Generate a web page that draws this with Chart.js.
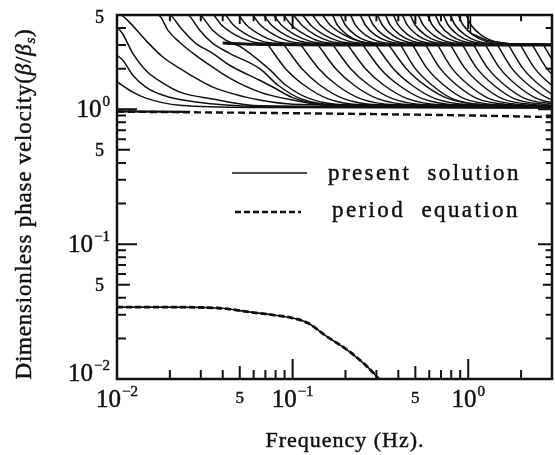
<!DOCTYPE html>
<html>
<head>
<meta charset="utf-8">
<script src="https://cdn.jsdelivr.net/npm/chart.js@4.4.1/dist/chart.umd.min.js"></script>
<style>
  html, body { margin: 0; padding: 0; background: #fff; }
  #wrap { position: relative; width: 555px; height: 455px; }
</style>
</head>
<body>
<div id="wrap"><canvas id="chart" width="555" height="455"></canvas></div>
<script>
// axes
const X_RANGE = [0.01, 3];
const Y_RANGE = [0.01, 5];
const X_TICKS = [0.02, 0.03, 0.04, 0.05, 0.06, 0.07, 0.08, 0.09, 0.1, 0.2, 0.3, 0.4, 0.5, 0.6, 0.7, 0.8, 0.9, 1, 2];
const Y_TICKS = [0.02, 0.03, 0.04, 0.05, 0.06, 0.07, 0.08, 0.09, 0.1, 0.2, 0.3, 0.4, 0.5, 0.6, 0.7, 0.8, 0.9, 1, 2, 3, 4];
const MAJOR_TICKS = [0.1, 1];
const MID_TICKS = [0.05, 0.5];
const X_LABEL_VALUES = [0.01, 0.05, 0.1, 0.5, 1];
const X_LABEL_TEXT = ['10^-2', '5', '10^-1', '5', '10^0'];
const Y_LABEL_VALUES = [0.01, 0.05, 0.1, 0.5, 1, 5];
const Y_LABEL_TEXT = ['10^-2', '5', '10^-1', '5', '10^0', '5'];

// fundamental mode [freq, velocity]
const fundamentalMode = [[0.01, 0.0341], [0.0195, 0.0341], [0.0375, 0.0336], [0.0577, 0.0313], [0.078, 0.0298],
  [0.1, 0.0283], [0.122, 0.026], [0.158, 0.0205], [0.205, 0.0164], [0.267, 0.0123], [0.31, 0.0100]];

// mode just below 1
const nearUnityDashed = [[0.01, 0.96], [0.1, 0.935], [1, 0.9], [3, 0.875]];
const nearUnitySolid = [[0.01, 0.965], [0.026, 0.955]];

// osculation line around 3
const plateauLine = [[0.04, 3.1], [0.06, 3.03], [0.2, 3.0], [3, 3.0]];

// low frequency modes running through the whole range
const lowFreqModes = [
  [[0.01, 1.60], [0.0123, 1.34], [0.0146, 1.21], [0.0228, 1.07], [0.065, 1.03], [3.5, 1.02]],
  [[0.01, 2.5], [0.0108, 2.31], [0.0123, 1.79], [0.0146, 1.46], [0.0183, 1.27], [0.0281, 1.13], [0.065, 1.05], [3.5, 1.03]],
  [[0.01, 4.1], [0.0108, 3.6], [0.0123, 2.60], [0.0146, 1.94], [0.0183, 1.56], [0.0228, 1.34], [0.0351, 1.19], [0.065, 1.06], [3.5, 1.03]],
  [[0.0106, 5.0], [0.0115, 4.56], [0.0146, 3.24], [0.0183, 2.43], [0.0228, 2.01], [0.0281, 1.70], [0.0351, 1.46], [0.0541, 1.23], [0.065, 1.17], [0.1, 1.09], [3.5, 1.04]],
  [[0.0172, 5.0], [0.0178, 4.80], [0.0195, 3.85], [0.0228, 3.13], [0.0281, 2.51], [0.0351, 2.05], [0.0438, 1.70], [0.065, 1.34], [0.1, 1.17], [0.164, 1.07], [3.5, 1.05]],
  [[0.0203, 5.0], [0.0208, 4.80], [0.0237, 3.85], [0.0281, 3.08], [0.0351, 2.60], [0.0438, 2.12], [0.065, 1.64], [0.078, 1.45], [0.1, 1.22], [0.16, 1.08], [3.5, 1.05]],
  [[0.0255, 5.0], [0.0263, 4.80], [0.0296, 3.85], [0.0351, 3.08], [0.0438, 2.60], [0.065, 2.0], [0.083, 1.5], [0.111, 1.2], [0.176, 1.08], [3.5, 1.05]],
  [[0.030, 5.0], [0.0308, 4.80], [0.0351, 3.85], [0.0416, 3.25], [0.0506, 2.9], [0.073, 2.0], [0.092, 1.5], [0.125, 1.2], [0.2, 1.08], [3.5, 1.05]]
];

// upper modes: frequency where each reaches these velocities
const UPPER_LEVELS = [5.0, 4.2, 3.55, 3.2, 3.05];
const upperModeFreqs = [
  [0.0356, 0.0395, 0.0474, 0.0570, 0.0760],
  [0.0416, 0.0462, 0.0555, 0.0667, 0.0889],
  [0.0493, 0.0548, 0.0658, 0.0790, 0.105],
  [0.0593, 0.0658, 0.0790, 0.0949, 0.127],
  [0.0684, 0.0760, 0.0912, 0.110, 0.146],
  [0.0780, 0.0866, 0.104, 0.125, 0.167],
  [0.0889, 0.0987, 0.119, 0.142, 0.190],
  [0.101, 0.113, 0.135, 0.162, 0.216],
  [0.114, 0.127, 0.152, 0.183, 0.243],
  [0.130, 0.144, 0.173, 0.208, 0.277],
  [0.148, 0.164, 0.197, 0.237, 0.316],
  [0.169, 0.180, 0.205, 0.240, 0.304],
  [0.187, 0.200, 0.228, 0.267, 0.338],
  [0.214, 0.228, 0.260, 0.304, 0.385],
  [0.243, 0.260, 0.296, 0.347, 0.439],
  [0.270, 0.289, 0.329, 0.385, 0.487],
  [0.304, 0.325, 0.370, 0.433, 0.548],
  [0.338, 0.360, 0.411, 0.481, 0.608],
  [0.375, 0.400, 0.456, 0.534, 0.675],
  [0.422, 0.450, 0.513, 0.600, 0.760],
  [0.468, 0.500, 0.570, 0.667, 0.844],
  [0.520, 0.555, 0.633, 0.740, 0.937],
  [0.585, 0.625, 0.712, 0.833, 1.054],
  [0.649, 0.694, 0.790, 0.925, 1.170],
  [0.721, 0.770, 0.877, 1.026, 1.299],
  [0.790, 0.844, 0.962, 1.125, 1.423],
  [0.877, 0.937, 1.068, 1.249, 1.58],
  [0.974, 1.040, 1.185, 1.387, 1.755]
];
const lastUpperMode = [[1.03, 5.0], [1.03, 3.66], [1.28, 3.24], [1.67, 3.08], [3.0, 3.05]];

// lower modes leaving the 3-line
const LOWER_LEVELS = [3.03, 2.0, 1.5, 1.2, 1.08];
const LOWER_TAIL = [3.5, 1.05];
const lowerModeFreqs = [
  [0.0721, 0.0912, 0.117, 0.158, 0.250],
  [0.0889, 0.113, 0.144, 0.195, 0.308],
  [0.111, 0.141, 0.180, 0.243, 0.385],
  [0.139, 0.176, 0.225, 0.304, 0.481],
  [0.169, 0.214, 0.274, 0.370, 0.585],
  [0.205, 0.260, 0.333, 0.450, 0.712],
  [0.250, 0.316, 0.405, 0.548, 0.866],
  [0.296, 0.375, 0.481, 0.649, 1.026],
  [0.351, 0.444, 0.570, 0.770, 1.217],
  [0.411, 0.500, 0.625, 0.811, 1.249],
  [0.481, 0.585, 0.730, 0.949, 1.462],
  [0.570, 0.694, 0.866, 1.125, 1.732],
  [0.667, 0.811, 1.013, 1.316, 2.03],
  [0.790, 0.962, 1.201, 1.561, 2.40],
  [0.925, 1.125, 1.405, 1.825, 2.81],
  [1.068, 1.299, 1.623, 2.108, 3.25],
  [1.249, 1.52, 1.898, 2.466, 3.80],
  [1.462, 1.778, 2.222, 2.886, 4.44],
  [1.688, 2.054, 2.565, 3.33, 5.13],
  [1.974, 2.40, 3.0, 3.90, 6.0],
  [2.31, 2.81, 3.51, 4.56, 7.03],
  [2.67, 3.25, 4.05, 5.27, 8.11]
];

const INK = '#111';
const SERIF = '"Liberation Serif", "DejaVu Serif", serif';

const datasets = [];
function addLine(points, opts) {
  datasets.push(Object.assign({
    data: points.map(p => ({ x: p[0], y: p[1] })),
    showLine: true,
    pointRadius: 0,
    borderColor: INK,
    borderWidth: 1.5,
    fill: false,
    cubicInterpolationMode: 'monotone'
  }, opts || {}));
}

lowFreqModes.forEach(m => addLine(m));
upperModeFreqs.forEach(fs => addLine(fs.map((f, i) => [f, UPPER_LEVELS[i]])));
addLine(lastUpperMode, { cubicInterpolationMode: 'default', tension: 0 });
lowerModeFreqs.forEach(fs => {
  const pts = fs.map((f, i) => [f, LOWER_LEVELS[i]]);
  if (fs[fs.length - 1] < LOWER_TAIL[0]) pts.push(LOWER_TAIL);
  addLine(pts);
});
addLine(plateauLine, { borderWidth: 3 });
addLine(nearUnitySolid, { borderWidth: 2.2 });
addLine(nearUnityDashed, { borderWidth: 2.4, borderDash: [7, 4] });
addLine(fundamentalMode, { borderWidth: 1.6 });
addLine(fundamentalMode, { borderWidth: 2.8, borderDash: [6, 3] });

// heavy text, a bit like the scanned print
function ink(ctx, text, x, y) {
  ctx.fillText(text, x, y);
  ctx.lineWidth = 0.45;
  ctx.strokeText(text, x, y);
}

function drawPower(ctx, text, x, y, align, baseSize, expSize, raise) {
  const parts = text.split('^');
  const base = parts[0];
  const exp = parts[1] ? parts[1].replace('-', '\u2212') : '';
  ctx.font = baseSize + 'px ' + SERIF;
  const wb = ctx.measureText(base).width;
  let we = 0;
  if (exp) {
    ctx.font = expSize + 'px ' + SERIF;
    we = ctx.measureText(exp).width + 1;
  }
  const total = wb + we;
  const x0 = align === 'center' ? x - total / 2 : x - total;
  ctx.textAlign = 'left';
  ctx.textBaseline = 'alphabetic';
  ctx.font = baseSize + 'px ' + SERIF;
  ink(ctx, base, x0, y);
  if (exp) {
    ctx.font = expSize + 'px ' + SERIF;
    ink(ctx, exp, x0 + wb + 1, y - raise);
  }
}

const framePlugin = {
  id: 'frame',
  afterDraw(chart) {
    const ctx = chart.ctx;
    const a = chart.chartArea;
    const xs = chart.scales.x;
    const ys = chart.scales.y;
    ctx.save();
    ctx.strokeStyle = INK;
    ctx.fillStyle = INK;

    // inward ticks on all sides
    ctx.lineWidth = 2;
    const lenOf = v => MAJOR_TICKS.includes(v) ? 20 : (MID_TICKS.includes(v) ? 13 : 9);
    X_TICKS.forEach(v => {
      const px = xs.getPixelForValue(v);
      const len = lenOf(v);
      ctx.beginPath();
      ctx.moveTo(px, a.bottom); ctx.lineTo(px, a.bottom - len);
      ctx.moveTo(px, a.top); ctx.lineTo(px, a.top + len * 0.7);
      ctx.stroke();
    });
    Y_TICKS.forEach(v => {
      const py = ys.getPixelForValue(v);
      const len = lenOf(v);
      ctx.beginPath();
      ctx.moveTo(a.left, py); ctx.lineTo(a.left + len, py);
      ctx.moveTo(a.right, py); ctx.lineTo(a.right - len * 0.7, py);
      ctx.stroke();
    });

    // frame
    ctx.lineWidth = 2.5;
    ctx.strokeRect(a.left, a.top, a.right - a.left, a.bottom - a.top);

    // tick labels
    X_LABEL_VALUES.forEach((v, i) => {
      const px = xs.getPixelForValue(v);
      const t = X_LABEL_TEXT[i];
      if (t.includes('^')) drawPower(ctx, t, px, 407, 'center', 25, 15, 11);
      else drawPower(ctx, t, px, 403, 'center', 17, 0, 0);
    });
    Y_LABEL_VALUES.forEach((v, i) => {
      let py = ys.getPixelForValue(v);
      if (v === Y_RANGE[0]) py -= 6;
      if (v === Y_RANGE[1]) py += 2;
      const t = Y_LABEL_TEXT[i];
      if (t.includes('^')) drawPower(ctx, t, 110, py + 8, 'right', 25, 15, 11);
      else drawPower(ctx, t, 104, py + 6, 'right', 18, 0, 0);
    });

    // axis titles
    ctx.font = '22px ' + SERIF;
    ctx.textAlign = 'center';
    ctx.textBaseline = 'alphabetic';
    ctx.letterSpacing = '1px';
    ink(ctx, 'Frequency (Hz).', 345, 447);
    ctx.letterSpacing = '0px';

    const parts = [
      ['Dimensionless phase velocity(', '', 23, 0],
      ['\u03B2', 'italic ', 23, 0],
      ['/', '', 23, 0],
      ['\u03B2', 'italic ', 23, 0],
      ['s', 'italic ', 15, 4],
      [')', '', 23, 0]
    ];
    ctx.letterSpacing = '0.8px';
    let total = 0;
    parts.forEach(p => { ctx.font = p[1] + p[2] + 'px ' + SERIF; p.push(ctx.measureText(p[0]).width); total += p[4]; });
    ctx.save();
    ctx.translate(31, 204);
    ctx.rotate(-Math.PI / 2);
    ctx.textAlign = 'left';
    let cx = -total / 2;
    parts.forEach(p => {
      ctx.font = p[1] + p[2] + 'px ' + SERIF;
      ink(ctx, p[0], cx, p[3]);
      cx += p[4];
    });
    ctx.restore();
    ctx.letterSpacing = '0px';

    // legend
    ctx.lineWidth = 1.6;
    ctx.beginPath(); ctx.moveTo(232, 173); ctx.lineTo(307, 173); ctx.stroke();
    ctx.lineWidth = 2.6;
    ctx.setLineDash([6, 3]);
    ctx.beginPath(); ctx.moveTo(235, 212); ctx.lineTo(301, 212); ctx.stroke();
    ctx.setLineDash([]);
    ctx.font = '23px ' + SERIF;
    ctx.textAlign = 'left';
    ctx.textBaseline = 'middle';
    ctx.letterSpacing = '2.4px';
    ink(ctx, 'present  solution', 328, 174);
    ink(ctx, 'period  equation', 332, 211);
    ctx.letterSpacing = '0px';
    ctx.restore();
  }
};

new Chart(document.getElementById('chart'), {
  type: 'scatter',
  data: { datasets: datasets },
  options: {
    responsive: false,
    animation: false,
    devicePixelRatio: 1,
    layout: { padding: { left: 117, right: 3, top: 15, bottom: 76 } },
    plugins: { legend: { display: false }, tooltip: { enabled: false } },
    scales: {
      x: { type: 'logarithmic', min: X_RANGE[0], max: X_RANGE[1], display: false },
      y: { type: 'logarithmic', min: Y_RANGE[0], max: Y_RANGE[1], display: false }
    }
  },
  plugins: [framePlugin]
});
</script>
</body>
</html>
